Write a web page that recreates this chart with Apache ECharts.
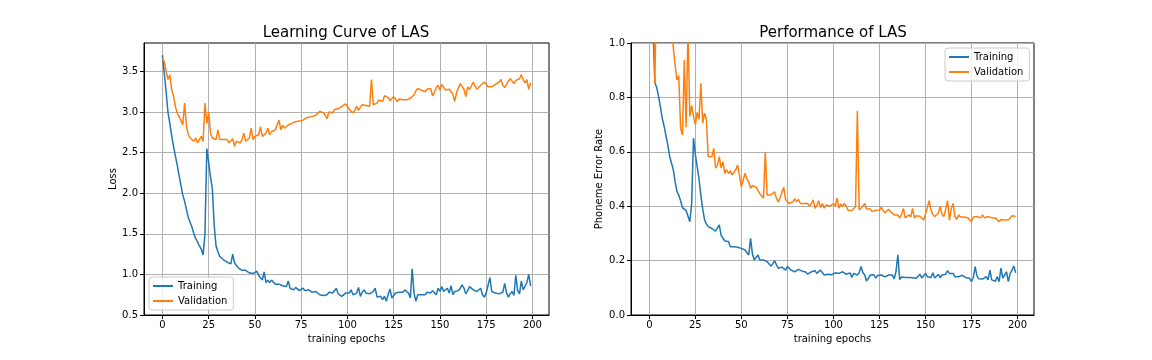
<!DOCTYPE html>
<html>
<head>
<meta charset="utf-8">
<script src="https://cdn.jsdelivr.net/npm/echarts@6/dist/echarts.min.js"></script>
<style>
html,body{margin:0;padding:0;background:#fff;}
#chart{width:1152px;height:360px;}
</style>
</head>
<body>
<div id="chart"></div>
<script>
// ---- data ----
const xTicks = [0, 25, 50, 75, 100, 125, 150, 175, 200];
const lossTicks = [0.5, 1.0, 1.5, 2.0, 2.5, 3.0, 3.5];
const perTicks = [0.0, 0.2, 0.4, 0.6, 0.8, 1.0];
const seriesNames = ['Training', 'Validation'];

const lossTrain = [
3.70,3.48,3.25,3.00,2.86,2.71,2.58,2.46,2.35,2.22,
2.10,1.98,1.90,1.80,1.70,1.64,1.58,1.50,1.44,1.40,
1.35,1.31,1.24,1.50,2.55,2.38,2.20,2.05,1.60,1.35,
1.28,1.22,1.20,1.18,1.16,1.15,1.15,1.13,1.25,1.14,
1.12,1.08,1.07,1.05,1.06,1.05,1.04,1.02,1.03,1.01,
0.99,1.04,0.99,0.98,0.93,1.03,0.90,0.93,0.90,0.93,
0.91,0.88,0.89,0.88,0.87,0.86,0.85,0.85,0.92,0.83,
0.82,0.81,0.84,0.83,0.80,0.79,0.83,0.80,0.78,0.81,
0.79,0.78,0.77,0.79,0.78,0.75,0.76,0.74,0.75,0.75,
0.78,0.79,0.77,0.78,0.83,0.76,0.74,0.73,0.71,0.77,
0.76,0.77,0.81,0.75,0.77,0.77,0.84,0.73,0.78,0.81,
0.77,0.79,0.76,0.78,0.79,0.83,0.72,0.74,0.73,0.69,
0.73,0.67,0.75,0.82,0.71,0.69,0.77,0.75,0.78,0.76,
0.78,0.81,0.83,0.77,0.71,1.07,0.77,0.67,0.75,0.74,
0.75,0.77,0.75,0.78,0.78,0.77,0.80,0.79,0.75,0.83,
0.79,0.85,0.79,0.81,0.83,0.77,0.86,0.75,0.79,0.77,
0.80,0.83,0.87,0.83,0.76,0.80,0.85,0.83,0.81,0.82,
0.79,0.79,0.83,0.75,0.72,0.77,0.79,0.96,0.79,0.77,
0.77,0.79,0.76,0.77,0.78,0.89,0.77,0.72,0.76,0.79,
0.74,0.99,0.80,0.76,0.92,0.81,0.81,0.90,1.00,0.86
];
const lossVal = [
3.66,3.62,3.50,3.40,3.46,3.27,3.20,3.07,2.99,2.97,
2.90,2.84,3.11,2.82,2.72,2.68,2.66,2.64,2.68,2.62,
2.66,2.70,2.64,3.11,2.86,3.00,2.74,2.68,2.70,2.66,
2.78,2.66,2.64,2.66,2.64,2.66,2.62,2.64,2.67,2.58,
2.64,2.66,2.62,2.66,2.74,2.64,2.66,2.68,2.80,2.66,
2.70,2.68,2.72,2.82,2.70,2.72,2.74,2.80,2.72,2.76,
2.74,2.78,2.80,2.90,2.78,2.84,2.80,2.82,2.84,2.82,
2.86,2.85,2.88,2.87,2.89,2.90,2.90,2.91,2.93,2.91,
2.94,2.93,2.95,2.96,2.98,3.01,3.02,2.99,2.96,2.92,
3.00,3.01,2.99,3.03,3.03,3.04,3.05,3.07,3.08,3.10,
3.07,3.03,3.01,2.99,3.02,3.07,3.02,3.06,3.09,3.10,
3.08,3.09,3.07,3.40,3.09,3.07,3.11,3.15,3.16,3.13,
3.20,3.20,3.18,3.14,3.15,3.19,3.17,3.13,3.16,3.16,
3.15,3.15,3.15,3.15,3.17,3.19,3.21,3.26,3.29,3.28,
3.27,3.27,3.25,3.28,3.30,3.29,3.20,3.24,3.30,3.33,
3.27,3.34,3.33,3.27,3.29,3.28,3.25,3.22,3.13,3.24,
3.30,3.35,3.34,3.28,3.19,3.31,3.28,3.32,3.37,3.32,
3.28,3.30,3.33,3.35,3.37,3.35,3.31,3.29,3.31,3.33,
3.34,3.33,3.37,3.40,3.33,3.30,3.34,3.38,3.41,3.38,
3.35,3.39,3.39,3.41,3.46,3.40,3.36,3.40,3.28,3.36
];
const perTrain = [
1.50,1.20,1.05,0.855,0.836,0.805,0.766,0.725,0.695,0.660,
0.626,0.585,0.560,0.535,0.490,0.455,0.440,0.420,0.395,0.395,
0.384,0.378,0.343,0.410,0.650,0.590,0.545,0.500,0.440,0.390,
0.350,0.335,0.325,0.318,0.318,0.313,0.308,0.313,0.331,0.293,
0.287,0.272,0.277,0.270,0.251,0.251,0.251,0.251,0.249,0.245,
0.245,0.249,0.239,0.233,0.220,0.282,0.225,0.202,0.208,0.221,
0.202,0.202,0.202,0.196,0.196,0.190,0.180,0.188,0.200,0.185,
0.172,0.172,0.176,0.178,0.165,0.178,0.172,0.165,0.165,0.159,
0.162,0.168,0.165,0.161,0.159,0.158,0.150,0.153,0.159,0.163,
0.163,0.153,0.159,0.165,0.166,0.147,0.153,0.150,0.147,0.148,
0.153,0.155,0.156,0.153,0.159,0.159,0.166,0.150,0.147,0.155,
0.138,0.153,0.150,0.147,0.155,0.178,0.156,0.147,0.125,0.135,
0.147,0.140,0.148,0.136,0.145,0.142,0.147,0.141,0.140,0.142,
0.147,0.141,0.147,0.133,0.160,0.221,0.130,0.140,0.136,0.138,
0.141,0.138,0.141,0.137,0.135,0.135,0.141,0.150,0.136,0.138,
0.153,0.141,0.145,0.138,0.155,0.136,0.140,0.149,0.137,0.147,
0.141,0.150,0.163,0.153,0.147,0.153,0.141,0.147,0.141,0.139,
0.146,0.141,0.137,0.139,0.135,0.123,0.138,0.178,0.143,0.133,
0.139,0.132,0.138,0.141,0.129,0.165,0.129,0.135,0.124,0.141,
0.123,0.172,0.136,0.147,0.159,0.123,0.153,0.165,0.180,0.155
];
const perVal = [
2.00,1.60,1.30,0.850,1.25,1.30,1.25,1.20,1.15,1.10,
1.12,1.08,1.05,1.05,0.920,0.864,0.880,0.686,0.662,0.937,
0.690,1.05,0.730,0.770,0.730,0.700,0.745,0.720,0.852,0.705,
0.742,0.720,0.582,0.588,0.582,0.613,0.540,0.550,0.582,0.540,
0.564,0.520,0.535,0.520,0.530,0.515,0.510,0.535,0.551,0.545,
0.472,0.496,0.521,0.500,0.490,0.466,0.475,0.480,0.470,0.466,
0.447,0.440,0.430,0.599,0.441,0.441,0.441,0.441,0.453,0.430,
0.416,0.430,0.450,0.470,0.425,0.430,0.410,0.413,0.416,0.428,
0.416,0.425,0.410,0.405,0.410,0.405,0.410,0.400,0.410,0.423,
0.392,0.405,0.420,0.395,0.410,0.393,0.405,0.408,0.400,0.393,
0.410,0.400,0.430,0.393,0.408,0.400,0.410,0.400,0.384,0.384,
0.384,0.384,0.398,0.751,0.386,0.392,0.400,0.410,0.390,0.386,
0.390,0.380,0.376,0.385,0.390,0.386,0.396,0.384,0.376,0.380,
0.389,0.380,0.374,0.368,0.362,0.368,0.357,0.370,0.392,0.357,
0.362,0.368,0.360,0.392,0.357,0.365,0.368,0.363,0.360,0.349,
0.370,0.375,0.420,0.385,0.370,0.362,0.357,0.375,0.399,0.370,
0.362,0.390,0.420,0.349,0.390,0.410,0.362,0.352,0.368,0.360,
0.362,0.360,0.357,0.357,0.350,0.343,0.360,0.357,0.362,0.367,
0.357,0.368,0.357,0.352,0.362,0.357,0.357,0.357,0.357,0.357,
0.343,0.351,0.349,0.349,0.349,0.349,0.357,0.365,0.372,0.362
];

// ---- chart ----
const FONT = 'DejaVu Sans';
const C_TRAIN = '#1f77b4', C_VAL = '#ff7f0e';
const toPairs = arr => arr.map((v, i) => [i, v]);

function xAxisCfg(gridIndex) {
  return {
    type: 'value', gridIndex, min: -9.95, max: 208.95,
    name: 'training epochs', nameLocation: 'middle', nameGap: 19,
    nameTextStyle: {fontFamily: FONT, fontSize: 10, color: '#000'},
    axisLine: {show: true, onZero: false, lineStyle: {color: '#000', width: 1}},
    axisTick: {show: true, length: 4, customValues: xTicks, lineStyle: {color: '#000'}},
    axisLabel: {customValues: xTicks, margin: 5, fontFamily: FONT, fontSize: 10, color: '#000'},
    splitLine: {show: true, lineStyle: {color: '#b0b0b0', width: 1}}
  };
}
function yAxisCfg(gridIndex, name, min, max, ticks, gap) {
  return {
    type: 'value', gridIndex, min, max,
    name, nameLocation: 'middle', nameGap: gap,
    nameTextStyle: {fontFamily: FONT, fontSize: 10, color: '#000'},
    axisLine: {show: true, onZero: false, lineStyle: {color: '#000', width: 1}},
    axisTick: {show: true, length: 4, customValues: ticks, lineStyle: {color: '#000'}},
    axisLabel: {customValues: ticks, margin: 6, fontFamily: FONT, fontSize: 10, color: '#000',
      formatter: v => Number(v).toFixed(1)},
    splitLine: {show: true, lineStyle: {color: '#b0b0b0', width: 1}}
  };
}
function lineSeries(name, data, color, idx) {
  return {
    type: 'line', name, data: toPairs(data), xAxisIndex: idx, yAxisIndex: idx,
    showSymbol: false, symbol: 'none', clip: true,
    lineStyle: {color, width: 1.5}, itemStyle: {color},
    emphasis: {disabled: true}
  };
}
const legendBase = {
  orient: 'vertical', icon: 'rect', itemWidth: 20, itemHeight: 2, itemGap: 3,
  padding: [3, 6, 3, 4], borderColor: '#cccccc', borderWidth: 1, borderRadius: 3,
  backgroundColor: 'rgba(255,255,255,0.8)',
  textStyle: {fontFamily: FONT, fontSize: 10, color: '#000', lineHeight: 12},
  data: seriesNames, selectedMode: false
};
const titleStyle = {fontFamily: FONT, fontSize: 15, fontWeight: 'normal', color: '#000'};

const chart = echarts.init(document.getElementById('chart'), null, {renderer: 'canvas'});
chart.setOption({
  animation: false,
  backgroundColor: '#fff',
  title: [
    {text: 'Learning Curve of LAS', left: 346, top: 26, textAlign: 'center', padding: 0, textStyle: titleStyle},
    {text: 'Performance of LAS', left: 833, top: 26, textAlign: 'center', padding: 0, textStyle: titleStyle}
  ],
  grid: [
    {left: 144, top: 43, width: 405, height: 272, show: true, borderColor: '#000', borderWidth: 1, backgroundColor: 'transparent'},
    {left: 631, top: 43, width: 403, height: 272, show: true, borderColor: '#000', borderWidth: 1, backgroundColor: 'transparent'}
  ],
  xAxis: [xAxisCfg(0), xAxisCfg(1)],
  yAxis: [
    yAxisCfg(0, 'Loss', 0.5, 3.85, lossTicks, 26),
    yAxisCfg(1, 'Phoneme Error Rate', 0, 1.0, perTicks, 27)
  ],
  legend: [
    Object.assign({}, legendBase, {left: 149, top: 277}),
    Object.assign({}, legendBase, {left: 945, top: 48})
  ],
  series: [
    lineSeries(seriesNames[0], lossTrain, C_TRAIN, 0),
    lineSeries(seriesNames[1], lossVal, C_VAL, 0),
    lineSeries(seriesNames[0], perTrain, C_TRAIN, 1),
    lineSeries(seriesNames[1], perVal, C_VAL, 1)
  ]
});
</script>
</body>
</html>
